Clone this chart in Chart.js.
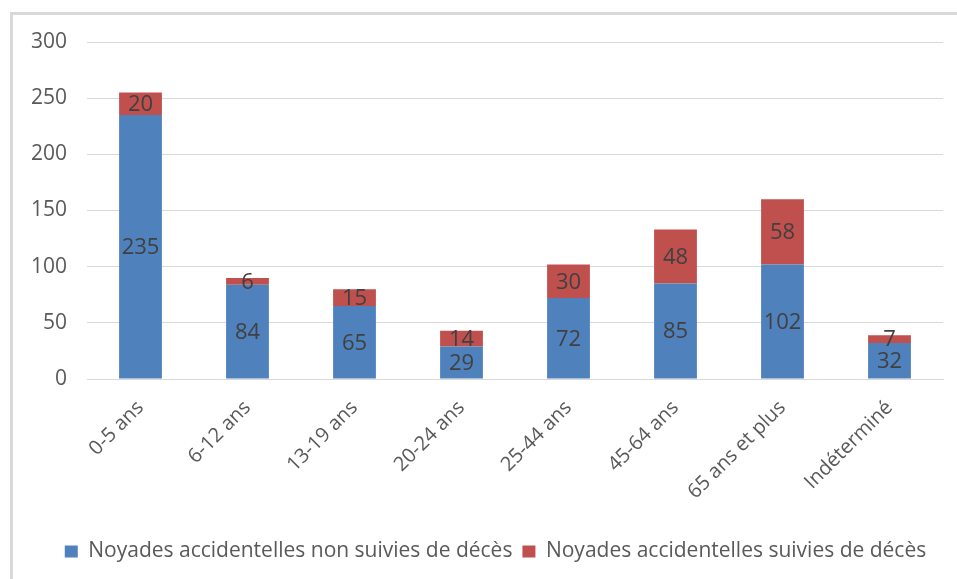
<!DOCTYPE html>
<html>
<head>
<meta charset="utf-8">
<script src="https://cdn.jsdelivr.net/npm/chart.js@4"></script>
<style>
  html, body { margin: 0; padding: 0; background: #ffffff; overflow: hidden; }
  #wrap { position: relative; width: 957px; height: 579px; }
  #frame { position: absolute; left: 10px; top: 12px; width: 960px; height: 600px;
           border-left: 3px solid #d9d9d9; border-top: 3px solid #d9d9d9; box-sizing: border-box; }
  canvas { position: absolute; left: 0; top: 0; }
</style>
</head>
<body>
<div id="wrap">
  <div id="frame"></div>
  <canvas id="c" width="957" height="579"></canvas>
</div>
<script>
const categories = ["0-5 ans", "6-12 ans", "13-19 ans", "20-24 ans", "25-44 ans", "45-64 ans", "65 ans et plus", "Indéterminé"];
const nonFatal = [235, 84, 65, 29, 72, 85, 102, 32];
const fatal = [20, 6, 15, 14, 30, 48, 58, 7];
const seriesNames = ["Noyades accidentelles non suivies de décès", "Noyades accidentelles suivies de décès"];
const yTicks = [0, 50, 100, 150, 200, 250, 300];

const labelPlugin = {
  id: 'segLabels',
  afterLayout(chart) {
    if (chart.legend) { chart.legend.left += 24; chart.legend.right += 24; }
  },
  afterDatasetsDraw(chart) {
    const ctx = chart.ctx;
    ctx.save();
    ctx.font = '22px "Open Sans"';
    ctx.fillStyle = '#404040';
    ctx.textAlign = 'center';
    ctx.textBaseline = 'middle';
    chart.data.datasets.forEach((ds, di) => {
      const meta = chart.getDatasetMeta(di);
      meta.data.forEach((el, i) => {
        const p = el.getProps(['x', 'y', 'base'], true);
        ctx.fillText(String(ds.data[i]), p.x, (p.y + p.base) / 2 + 1);
      });
    });
    ctx.restore();
  }
};

new Chart(document.getElementById('c'), {
  type: 'bar',
  data: {
    labels: categories,
    datasets: [
      { label: seriesNames[0], data: nonFatal, backgroundColor: '#4f81bd', borderWidth: 0 },
      { label: seriesNames[1], data: fatal, backgroundColor: '#c0504d', borderWidth: 0 }
    ]
  },
  options: {
    responsive: false,
    animation: false,
    layout: { padding: { top: 42, right: 14, left: 0, bottom: 7 } },
    datasets: { bar: { categoryPercentage: 1, barPercentage: 0.4 } },
    scales: {
      x: {
        stacked: true,
        grid: { display: false },
        border: { color: '#d9d9d9', width: 1 },
        ticks: {
          color: '#595959', font: { family: 'Open Sans', size: 20 },
          maxRotation: 45, minRotation: 45, padding: 9, autoSkip: false
        },
        afterFit(scale) { scale.height = 152; }
      },
      y: {
        stacked: true,
        min: 0, max: 300,
        afterBuildTicks(scale) { scale.ticks = yTicks.map(v => ({ value: v })); },
        grid: { color: '#d9d9d9', drawTicks: false },
        border: { display: false },
        ticks: { color: '#595959', font: { family: 'Open Sans', size: 21 }, padding: 20 },
        afterFit(scale) { scale.width = 87; }
      }
    },
    plugins: {
      legend: {
        position: 'bottom',
        labels: {
          color: '#595959', font: { family: 'Open Sans', size: 21 },
          boxWidth: 13, boxHeight: 12, padding: 10
        }
      },
      tooltip: { enabled: false }
    }
  },
  plugins: [labelPlugin]
});
</script>
</body>
</html>
